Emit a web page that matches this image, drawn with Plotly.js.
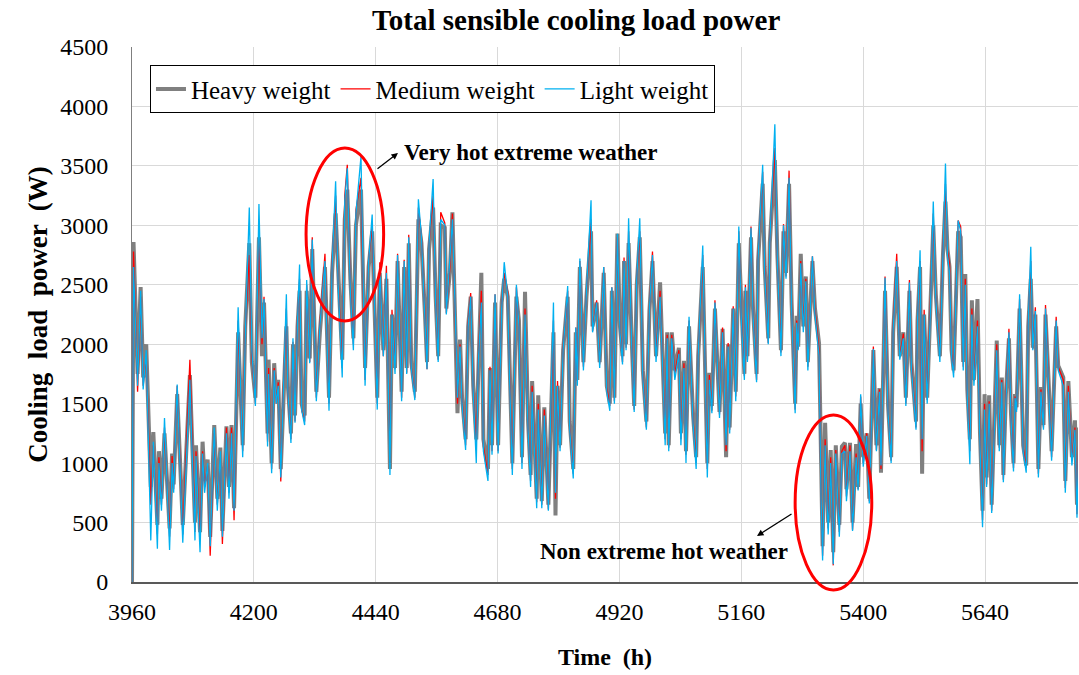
<!DOCTYPE html>
<html>
<head>
<meta charset="utf-8">
<script src="https://cdn.plot.ly/plotly-3.0.1.min.js"></script>
<style>html,body{margin:0;padding:0;background:#fff;}#chart{width:1079px;height:675px;}</style>
</head>
<body>
<div id="chart"></div>
<script>
const hours = [
3960,3963,3971,3977,3982,3988,3997,4002,4010,4013,
4018,4024,4034,4039,4042,4049,4060,4074,4084,4086,
4094,4099,4103,4109,4114,4122,4128,4134,4138,4146,
4151,4156,4161,4169,4178,4183,4191,4196,4203,4210,
4216,4220,4227,4229,4235,4240,4244,4248,4253,4258,
4264,4267,4273,4277,4281,4286,4290,4294,4300,4304,
4310,4315,4323,4330,4340,4348,4354,4361,4366,4374,
4379,4384,4390,4396,4401,4411,4414,4419,4426,4433,
4443,4448,4455,4461,4468,4472,4478,4483,4491,4496,
4501,4505,4510,4517,4524,4530,4537,4541,4545,4553,
4558,4563,4568,4576,4579,4586,4591,4596,4601,4606,
4610,4617,4622,4627,4632,4638,4642,4648,4652,4661,
4665,4669,4675,4681,4688,4693,4700,4704,4709,4717,
4722,4728,4734,4740,4745,4748,4757,4760,4767,4772,
4780,4790,4794,4798,4803,4809,4818,4822,4829,4834,
4837,4842,4849,4855,4864,4867,4875,4881,4889,4895,
4901,4905,4910,4916,4921,4926,4929,4933,4938,4944,
4949,4954,4960,4966,4973,4979,4985,4992,5000,5005,
5010,5014,5017,5023,5029,5037,5041,5047,5051,5057,
5065,5071,5075,5084,5093,5097,5102,5108,5117,5123,
5130,5134,5137,5144,5149,5155,5160,5166,5168,5172,
5179,5183,5190,5193,5202,5206,5213,5216,5226,5231,
5238,5243,5248,5254,5259,5266,5269,5272,5277,5282,
5287,5291,5300,5305,5313,5317,5320,5325,5331,5336,
5341,5346,5353,5358,5364,5367,5374,5379,5386,5390,
5395,5400,5407,5412,5420,5426,5432,5435,5443,5449,
5455,5459,5466,5472,5479,5484,5491,5495,5504,5507,
5512,5516,5520,5526,5532,5538,5543,5551,5557,5562,
5566,5570,5574,5578,5587,5592,5597,5601,5605,5610,
5614,5618,5625,5630,5635,5639,5643,5648,5653,5658,
5663,5668,5673,5676,5681,5687,5691,5696,5699,5702,
5708,5715,5721,5725,5730,5734,5739,5745,5750,5755,
5759,5765,5771,5780,5784,5794,5798,5804,5811,5817,
5821,5825
];
const heavyWeight = [
0,2860,1750,2480,1720,2000,800,1260,480,1100,
700,1250,450,1080,820,1580,480,1740,500,1150,
420,1180,850,1030,380,1320,700,1130,430,1310,
800,1320,620,2100,1150,2150,2850,1850,1550,2900,
1900,2350,1250,1870,1000,1840,1550,1700,950,1600,
2150,1650,1250,2000,1400,2150,2450,1500,1400,2450,
1880,2800,1600,2100,2650,1550,2600,3100,2550,1870,
3050,3300,2550,2050,3000,3300,2750,1800,2650,2950,
1550,2600,1950,2550,950,2250,1800,2700,1600,2650,
1800,2850,1850,1600,3050,2850,2250,1850,2800,3150,
2400,1900,3000,2980,2300,2600,3110,2400,1420,2040,
1550,1200,2150,2400,1650,1200,1850,2600,1200,950,
1800,1150,2350,1150,2350,2550,2400,1700,1000,2400,
2200,1050,2440,1350,900,1690,700,1570,680,1470,
650,2100,560,1650,1150,1950,2400,1350,950,2100,
1700,2650,1850,2400,2950,2150,2350,1850,2600,1650,
1500,2450,1550,2930,2150,1900,2700,2000,2850,2050,
1480,2500,2900,1780,1350,2280,2700,1900,2520,1870,
1250,2100,1150,2100,1780,1970,1250,1860,1100,2150,
1400,1050,1900,2650,1000,1760,1480,2300,1430,2130,
1050,2000,1300,2300,1600,2850,2250,1750,2450,1900,
2900,2300,1750,2700,3350,2650,2050,2850,3550,2750,
1950,2950,2600,3350,2350,1500,2240,1980,2760,2150,
2570,1850,2700,2300,2010,800,300,1340,500,1110,
250,1150,480,1140,1170,780,1170,500,1160,800,
1500,1050,1250,700,1950,1150,1630,920,2450,1480,
1050,2100,2650,1900,2100,1550,2450,1850,1350,2200,
2650,910,2250,1550,2250,3000,2420,1900,2750,3200,
2800,2650,1950,1780,2950,2900,1850,2590,1620,1200,
2370,1700,2380,1250,600,1580,880,1570,650,1410,
2030,1150,1720,900,1580,2050,1420,1000,1580,1470,
2300,1150,980,2150,2550,1970,2250,950,1640,1320,
2250,1700,1100,2150,1820,1720,850,1690,1050,1360,
650,1300
];
const mediumWeight = [
0,2780,1600,2400,1650,1900,650,1150,400,1050,
650,1300,380,1060,780,1650,400,1870,420,1100,
350,1100,800,980,220,1250,650,1050,320,1300,
750,1300,520,2200,1100,2100,2750,1900,1500,2910,
2000,2400,1180,1800,950,1800,1500,1680,845,1620,
2300,1590,1200,2020,1350,2230,2550,1450,1350,2500,
1850,2900,1550,2170,2760,1500,2690,3250,2540,1800,
3250,3510,2490,2000,3130,3400,2710,1700,2710,3000,
1500,2690,1900,2660,1000,2290,1790,2760,1550,2710,
1760,2920,1810,1550,3150,2910,2240,1790,2850,3250,
2380,1870,3110,3020,2260,2650,3100,2380,1500,2000,
1530,1150,2180,2430,1620,1150,1870,2450,1140,900,
1810,1100,2420,1100,2340,2600,2440,1690,950,2480,
2170,1000,2300,1300,850,1650,670,1500,650,1450,
610,2200,700,1690,1130,1970,2450,1300,910,2140,
1690,2700,1810,2450,3050,2110,2370,1830,2650,1640,
1480,2480,1520,2900,2110,1850,2730,1970,2950,2030,
1450,2560,2950,1750,1300,2310,2780,1890,2450,1850,
1200,2080,1130,2080,1750,1950,1200,1840,1070,2200,
1360,1000,1920,2750,950,1740,1440,2370,1410,2140,
1100,2010,1280,2320,1560,2950,2240,1730,2500,1870,
2990,2290,1700,2740,3450,2660,2010,2880,3650,2710,
1930,3010,2570,3460,2320,1450,2200,1960,2700,2150,
2550,1810,2740,2290,1950,750,220,1200,450,1050,
140,1110,420,1100,1150,720,1150,440,1080,780,
1560,1000,1250,680,1980,1110,1620,950,2570,1440,
1020,2150,2760,1890,2090,1500,2540,1840,1300,2230,
2700,1100,2290,1530,2260,3100,2400,1890,2820,3350,
2790,2680,1920,1760,3040,2990,1810,2550,1580,1100,
2300,1690,2200,1190,520,1500,820,1520,600,1380,
2000,1130,1700,860,1560,2130,1410,960,1560,1450,
2380,1130,960,2200,2700,1960,2310,910,1620,1300,
2330,1690,1050,2230,1810,1700,790,1650,1020,1300,
570,1280
];
const lightWeight = [
0,2650,1650,2450,1620,1950,350,1180,280,1000,
600,1380,270,1000,750,1660,330,1700,350,1060,
250,1080,750,1000,300,1300,600,1100,380,1250,
700,1250,600,2310,1050,2050,3150,1950,1480,3180,
2050,2380,1140,1750,915,1780,1500,1650,880,1580,
2420,1600,1170,2050,1340,2200,2670,1450,1320,2540,
1840,2880,1520,2150,2700,1440,2650,3370,2500,1720,
3200,3480,2450,1950,3100,3580,2700,1650,2700,3090,
1450,2650,1900,2600,900,2250,1750,2750,1520,2700,
1750,2900,1800,1530,3220,2900,2200,1790,2850,3390,
2350,1850,3050,3000,2250,2700,3050,2350,1550,1980,
1500,1110,2150,2400,1600,1000,1850,2350,1100,850,
1780,1070,2420,1080,2300,2690,2400,1650,900,2500,
2150,950,2250,1280,800,1600,620,1450,620,1400,
600,2350,750,1650,1100,1950,2490,1280,870,2140,
1650,2720,1780,2450,3210,2100,2350,1800,2650,1600,
1440,2480,1500,2930,2100,1830,2700,1950,3060,2000,
1430,2550,3060,1720,1280,2300,2750,1850,2400,1820,
1150,2050,1100,2050,1700,1920,1150,1800,1000,2230,
1330,950,1900,2830,880,1700,1420,2350,1380,2100,
1150,1980,1250,2300,1520,2990,2200,1700,2480,1850,
2980,2250,1680,2720,3510,2600,2000,2850,3850,2700,
1900,3000,2550,3400,2300,1420,2180,1950,2680,2100,
2530,1780,2740,2250,1900,720,180,1150,400,1000,
150,1080,380,1080,1100,680,1100,430,1050,770,
1580,970,1230,660,1960,1100,1600,980,2560,1420,
1000,2120,2700,1870,2050,1480,2520,1800,1280,2200,
2790,1200,2250,1500,2240,3200,2380,1850,2800,3520,
2750,2600,1900,1720,3040,2950,1780,2500,1560,990,
2250,1650,2150,1150,460,1450,800,1500,580,1350,
1950,1100,1680,840,1520,2100,1380,930,1550,1430,
2420,1100,920,2180,2820,1950,2280,880,1600,1280,
2300,1650,1020,2200,1780,1650,750,1600,980,1280,
540,1250
];
const seriesNames = ['Heavy weight', 'Medium weight', 'Light weight'];
const xTicks = [3960, 4200, 4440, 4680, 4920, 5160, 5400, 5640];
const yTicks = [0, 500, 1000, 1500, 2000, 2500, 3000, 3500, 4000, 4500];

const serif = 'Liberation Serif, Times New Roman, serif';
const traces = [
  {x: hours, y: heavyWeight, name: seriesNames[0], mode: 'lines', line: {color: '#808080', width: 4}},
  {x: hours, y: mediumWeight, name: seriesNames[1], mode: 'lines', line: {color: '#ff0000', width: 1.3}},
  {x: hours, y: lightWeight, name: seriesNames[2], mode: 'lines', line: {color: '#00b0f0', width: 1.3}}
];

const layout = {
  width: 1079, height: 675,
  margin: {l: 132, r: 1, t: 47, b: 93},
  paper_bgcolor: '#ffffff', plot_bgcolor: '#ffffff',
  font: {family: serif, color: '#000', size: 24},
  title: {text: '<b>Total sensible cooling load power</b>', font: {family: serif, size: 29, color: '#000'},
          x: 0.534, xref: 'container', xanchor: 'center', y: 0.97, yref: 'container', yanchor: 'middle'},
  showlegend: true,
  legend: {orientation: 'h', x: 0.019, y: 0.966, xanchor: 'left', yanchor: 'top',
           bgcolor: '#ffffff', bordercolor: '#000', borderwidth: 1,
           font: {family: serif, size: 25, color: '#000'}, itemwidth: 30, tracegroupgap: 0},
  xaxis: {
    range: [3960, 5823], tickvals: xTicks, ticktext: xTicks.map(String),
    showgrid: true, gridcolor: '#d9d9d9', gridwidth: 1,
    showline: true, linecolor: '#595959', linewidth: 2, ticks: '', zeroline: false,
    ticklabelstandoff: 7,
    tickfont: {family: serif, size: 24, color: '#000'},
    title: {text: '<b>Time  (h)</b>', font: {family: serif, size: 24, color: '#000'}, standoff: 24}
  },
  yaxis: {
    range: [0, 4500], tickvals: yTicks, ticktext: yTicks.map(String),
    showgrid: true, gridcolor: '#d9d9d9', gridwidth: 1,
    showline: true, linecolor: '#7f7f7f', linewidth: 1, ticks: '', zeroline: false,
    ticklabelstandoff: 18,
    tickfont: {family: serif, size: 24, color: '#000'},
    title: {text: '<b>Cooling  load  power  (W)</b>', font: {family: serif, size: 27, color: '#000'}, standoff: 4}
  },
  shapes: [
    {type: 'circle', xref: 'paper', yref: 'paper', x0: 0.184, x1: 0.266, y0: 0.488, y1: 0.811,
     line: {color: '#ff0000', width: 3}},
    {type: 'circle', xref: 'paper', yref: 'paper', x0: 0.701, x1: 0.782, y0: -0.015, y1: 0.312,
     line: {color: '#ff0000', width: 3}}
  ],
  annotations: [
    {xref: 'paper', yref: 'paper', x: (402 - 132) / 946, y: (582 - 152) / 535, xanchor: 'left', yanchor: 'middle',
     text: '<b>Very hot extreme weather</b>', showarrow: false, font: {family: serif, size: 23, color: '#000'}},
    {xref: 'paper', yref: 'paper', x: (398 - 132) / 946, y: (582 - 153) / 535, text: '', showarrow: true,
     ax: -22, ay: 17, arrowhead: 2, arrowsize: 1, arrowwidth: 1.3, arrowcolor: '#000'},
    {xref: 'paper', yref: 'paper', x: (790 - 132) / 946, y: (582 - 551) / 535, xanchor: 'right', yanchor: 'middle',
     text: '<b>Non extreme hot weather</b>', showarrow: false, font: {family: serif, size: 23, color: '#000'}},
    {xref: 'paper', yref: 'paper', x: (757 - 132) / 946, y: (582 - 536) / 535, text: '', showarrow: true,
     ax: 36, ay: -23, arrowhead: 2, arrowsize: 1, arrowwidth: 1.3, arrowcolor: '#000'}
  ]
};

Plotly.newPlot('chart', traces, layout, {displayModeBar: false, staticPlot: true});
</script>
</body>
</html>
